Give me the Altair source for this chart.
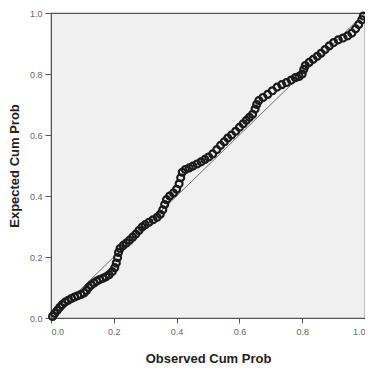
import altair as alt
import pandas as pd

observed = [0.005, 0.012, 0.020, 0.028, 0.036, 0.045, 0.055, 0.065, 0.075, 0.085,
            0.095, 0.105, 0.113, 0.120, 0.128, 0.137, 0.146, 0.155, 0.165, 0.175,
            0.185, 0.195, 0.203, 0.208, 0.212, 0.215, 0.220, 0.230, 0.240, 0.250,
            0.260, 0.270, 0.280, 0.290, 0.300, 0.312, 0.325, 0.338, 0.348, 0.356,
            0.362, 0.368, 0.378, 0.390, 0.400, 0.408, 0.413, 0.418, 0.428, 0.440,
            0.452, 0.465, 0.478, 0.490, 0.502, 0.515, 0.528, 0.540, 0.552, 0.563,
            0.575, 0.588, 0.600, 0.612, 0.622, 0.632, 0.642, 0.650, 0.655, 0.662,
            0.675, 0.690, 0.705, 0.720, 0.735, 0.750, 0.765, 0.778, 0.790, 0.800,
            0.805, 0.810, 0.822, 0.835, 0.848, 0.860, 0.873, 0.886, 0.900, 0.915,
            0.930, 0.945, 0.958, 0.970, 0.980, 0.990, 0.995]
expected = [0.005, 0.015, 0.025, 0.035, 0.044, 0.052, 0.058, 0.064, 0.069, 0.073,
            0.077, 0.082, 0.090, 0.100, 0.108, 0.115, 0.121, 0.126, 0.130, 0.135,
            0.142, 0.152, 0.165, 0.180, 0.198, 0.215, 0.228, 0.238, 0.246, 0.255,
            0.265, 0.275, 0.287, 0.298, 0.306, 0.314, 0.322, 0.330, 0.340, 0.355,
            0.372, 0.388, 0.400, 0.410, 0.422, 0.440, 0.460, 0.478, 0.487, 0.492,
            0.498, 0.505, 0.512, 0.520, 0.528, 0.538, 0.552, 0.566, 0.578, 0.590,
            0.600, 0.612, 0.625, 0.637, 0.648, 0.658, 0.668, 0.685, 0.700, 0.713,
            0.723, 0.733, 0.745, 0.757, 0.765, 0.772, 0.780, 0.788, 0.792, 0.800,
            0.815, 0.828, 0.838, 0.848, 0.858, 0.868, 0.880, 0.892, 0.903, 0.912,
            0.918, 0.925, 0.934, 0.948, 0.962, 0.978, 0.990]

ref_x = [0.0, 1.0]
ref_y = [0.0, 1.0]

pts = pd.DataFrame({"obs": observed, "exp": expected})
ref = pd.DataFrame({"obs": ref_x, "exp": ref_y})

xscale = alt.Scale(domain=[0, 1], nice=False, zero=False)
yscale = alt.Scale(domain=[0, 1], nice=False, zero=False)
tick_vals = [0.0, 0.2, 0.4, 0.6, 0.8, 1.0]

xaxis = alt.Axis(title="Observed Cum Prob", values=tick_vals, format=".1f",
                 grid=False, tickSize=5, labelPadding=4, titlePadding=16)
yaxis = alt.Axis(title="Expected Cum Prob", values=tick_vals, format=".1f",
                 grid=False, tickSize=6, labelPadding=3, titlePadding=8)

line = alt.Chart(ref).mark_line(color="#6e6e6e", strokeWidth=1).encode(
    x=alt.X("obs:Q", scale=xscale, axis=xaxis),
    y=alt.Y("exp:Q", scale=yscale, axis=yaxis),
)

points = alt.Chart(pts).mark_point(shape="circle", filled=False, color="#1a1a1a",
                                   size=48, strokeWidth=2.2, opacity=1).encode(
    x=alt.X("obs:Q", scale=xscale),
    y=alt.Y("exp:Q", scale=yscale),
)

chart = alt.layer(line, points).properties(
    width=314, height=305,
    autosize=alt.AutoSizeParams(type="none"),
    padding={"left": 43, "top": 5, "right": 0, "bottom": 46},
    background="white",
).configure_view(
    fill="#f0f0f0", stroke="#555555", strokeWidth=1.2
).configure_axis(
    domainColor="#555555", tickColor="#555555", labelColor="#666666",
    labelFont="Liberation Sans", labelFontSize=9,
    titleFont="Liberation Sans", titleFontSize=13, titleFontWeight="bold",
    titleColor="#222222",
)

chart.save("out.html", embed_options={"renderer": "svg", "actions": False})
